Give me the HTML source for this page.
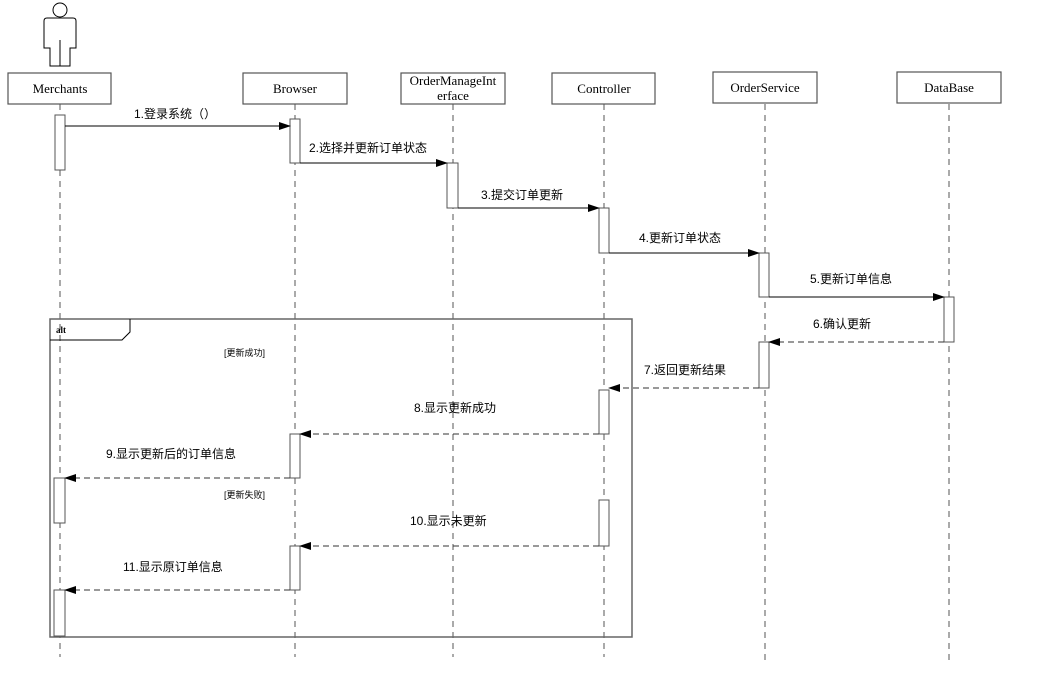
<!DOCTYPE html>
<html><head><meta charset="utf-8"><style>
html,body{margin:0;padding:0;background:#fff;width:1040px;height:675px;overflow:hidden}
svg{display:block}
.t{font-family:"Liberation Serif","Noto Serif CJK SC",serif;font-size:13px;fill:#000}
.c{font-family:"Liberation Sans","Noto Sans CJK SC",sans-serif;font-size:12px;fill:#000}
.s{font-family:"Liberation Sans","Noto Sans CJK SC",sans-serif;font-size:9px;fill:#000}
</style></head><body>
<svg width="1040" height="675" viewBox="0 0 1040 675" xmlns="http://www.w3.org/2000/svg">
<defs><marker id="a" markerWidth="12" markerHeight="8" refX="11" refY="4" orient="auto" markerUnits="userSpaceOnUse"><path d="M0,0 L12,4 L0,8 z" fill="#000"/></marker></defs>
<g stroke="#555" stroke-width="1" stroke-dasharray="6,5" fill="none">
<line x1="60" y1="104" x2="60" y2="657"/>
<line x1="295" y1="104" x2="295" y2="657"/>
<line x1="453" y1="104" x2="453" y2="657"/>
<line x1="604" y1="104" x2="604" y2="657"/>
<line x1="765" y1="104" x2="765" y2="662"/>
<line x1="949" y1="104" x2="949" y2="662"/>
</g>
<!-- actor -->
<g stroke="#000" stroke-width="1" fill="#fff">
<ellipse cx="60" cy="10" rx="7" ry="7"/>
<path d="M47,18 L73,18 Q76,18 76,21 L76,48 L70,48 L70,66 L50,66 L50,48 L44,48 L44,21 Q44,18 47,18 z"/>
<line x1="60" y1="40" x2="60" y2="66"/>
</g>
<!-- headers -->
<g stroke="#555" stroke-width="1.2" fill="#fff">
<rect x="8" y="73" width="103" height="31"/>
<rect x="243" y="73" width="104" height="31"/>
<rect x="401" y="73" width="104" height="31"/>
<rect x="552" y="73" width="103" height="31"/>
<rect x="713" y="72" width="104" height="31"/>
<rect x="897" y="72" width="104" height="31"/>
</g>
<text class="t" x="60" y="93" text-anchor="middle">Merchants</text>
<text class="t" x="295" y="93" text-anchor="middle">Browser</text>
<text class="t" x="453" y="85" text-anchor="middle">OrderManageInt</text>
<text class="t" x="453" y="100" text-anchor="middle">erface</text>
<text class="t" x="604" y="93" text-anchor="middle">Controller</text>
<text class="t" x="765" y="92" text-anchor="middle">OrderService</text>
<text class="t" x="949" y="92" text-anchor="middle">DataBase</text>
<!-- alt frame -->
<g stroke="#666" stroke-width="1.5" fill="none">
<rect x="50" y="319" width="582" height="318"/>
</g>
<path d="M50,340 L122,340 L130,332 L130,319" stroke="#000" fill="none"/>
<text x="56" y="333" style="font-family:'Liberation Serif',serif;font-size:9px;font-weight:bold">alt</text>
<text class="s" x="224" y="356">[更新成功]</text>
<text class="s" x="224" y="498">[更新失败]</text>
<!-- activations -->
<g stroke="#555" stroke-width="1" fill="#fff">
<rect x="55" y="115" width="10" height="55"/>
<rect x="290" y="119" width="10" height="44"/>
<rect x="447" y="163" width="11" height="45"/>
<rect x="599" y="208" width="10" height="45"/>
<rect x="759" y="253" width="10" height="44"/>
<rect x="944" y="297" width="10" height="45"/>
<rect x="759" y="342" width="10" height="46"/>
<rect x="599" y="390" width="10" height="44"/>
<rect x="290" y="434" width="10" height="44"/>
<rect x="54" y="478" width="11" height="45"/>
<rect x="599" y="500" width="10" height="46"/>
<rect x="290" y="546" width="10" height="44"/>
<rect x="54" y="590" width="11" height="46"/>
</g>
<!-- messages -->
<g stroke="#000" stroke-width="1" fill="none" marker-end="url(#a)">
<line x1="65" y1="126" x2="290" y2="126"/>
<line x1="300" y1="163" x2="447" y2="163"/>
<line x1="458" y1="208" x2="599" y2="208"/>
<line x1="609" y1="253" x2="759" y2="253"/>
<line x1="769" y1="297" x2="944" y2="297"/>
</g>
<g stroke="#333" stroke-width="1" fill="none" stroke-dasharray="6,4" marker-end="url(#a)">
<line x1="944" y1="342" x2="769" y2="342"/>
<line x1="759" y1="388" x2="609" y2="388"/>
<line x1="599" y1="434" x2="300" y2="434"/>
<line x1="290" y1="478" x2="65" y2="478"/>
<line x1="599" y1="546" x2="300" y2="546"/>
<line x1="290" y1="590" x2="65" y2="590"/>
</g>
<text class="c" x="134" y="118">1.登录系统（）</text>
<text class="c" x="309" y="152">2.选择并更新订单状态</text>
<text class="c" x="481" y="199">3.提交订单更新</text>
<text class="c" x="639" y="242">4.更新订单状态</text>
<text class="c" x="810" y="283">5.更新订单信息</text>
<text class="c" x="813" y="328">6.确认更新</text>
<text class="c" x="644" y="374">7.返回更新结果</text>
<text class="c" x="414" y="412">8.显示更新成功</text>
<text class="c" x="106" y="458">9.显示更新后的订单信息</text>
<text class="c" x="410" y="525">10.显示未更新</text>
<text class="c" x="123" y="571">11.显示原订单信息</text>
</svg>
</body></html>
